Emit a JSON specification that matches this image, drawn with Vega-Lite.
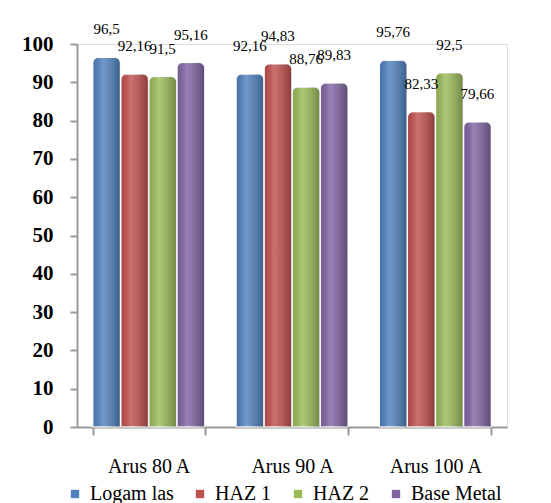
{
  "$schema": "https://vega.github.io/schema/vega-lite/v6.json",
  "autosize": "none",
  "width": 430,
  "height": 383,
  "padding": {"left": 77, "top": 44, "right": 44, "bottom": 76},
  "background": "white",
  "config": {"font": "Liberation Serif, Times New Roman, serif"},
  "data": {"values": [
    {"arus": "Arus 80 A", "seri": "Logam las", "nilai": 96.5, "label": "96,5"},
    {"arus": "Arus 80 A", "seri": "HAZ 1", "nilai": 92.16, "label": "92,16"},
    {"arus": "Arus 80 A", "seri": "HAZ 2", "nilai": 91.5, "label": "91,5"},
    {"arus": "Arus 80 A", "seri": "Base Metal", "nilai": 95.16, "label": "95,16"},
    {"arus": "Arus 90 A", "seri": "Logam las", "nilai": 92.16, "label": "92,16"},
    {"arus": "Arus 90 A", "seri": "HAZ 1", "nilai": 94.83, "label": "94,83"},
    {"arus": "Arus 90 A", "seri": "HAZ 2", "nilai": 88.76, "label": "88,76"},
    {"arus": "Arus 90 A", "seri": "Base Metal", "nilai": 89.83, "label": "89,83"},
    {"arus": "Arus 100 A", "seri": "Logam las", "nilai": 95.76, "label": "95,76"},
    {"arus": "Arus 100 A", "seri": "HAZ 1", "nilai": 82.33, "label": "82,33"},
    {"arus": "Arus 100 A", "seri": "HAZ 2", "nilai": 92.5, "label": "92,5"},
    {"arus": "Arus 100 A", "seri": "Base Metal", "nilai": 79.66, "label": "79,66"}
  ]},
  "encoding": {
    "x": {"field": "arus", "type": "nominal", "sort": ["Arus 80 A", "Arus 90 A", "Arus 100 A"],
      "scale": {"paddingInner": 0.22, "paddingOuter": 0.11},
      "axis": {"title": null, "labelAngle": 0, "labelFont": "Liberation Serif, serif", "labelFontSize": 20, "labelColor": "black",
        "labelPadding": 21, "domainColor": "#999999", "domainWidth": 2, "tickColor": "#999999", "tickWidth": 2, "tickSize": 8, "tickBand": "extent"}},
    "xOffset": {"field": "seri", "type": "nominal", "sort": ["Logam las", "HAZ 1", "HAZ 2", "Base Metal"], "scale": {"paddingInner": 0.02}},
    "y": {"field": "nilai", "type": "quantitative", "scale": {"domain": [0, 100]},
      "axis": {"title": null, "values": [0,10,20,30,40,50,60,70,80,90,100], "grid": false, "labelFont": "Liberation Serif, serif", "labelFontSize": 21, "labelFontWeight": "bold",
        "labelColor": "black", "labelPadding": 17, "domainColor": "#999999", "domainWidth": 2, "tickColor": "#999999", "tickWidth": 2, "tickSize": 7}}
  },
  "layer": [
    {
      "mark": {"type": "bar", "cornerRadiusTopLeft": 6, "cornerRadiusTopRight": 6, "stroke": "white", "strokeWidth": 1},
      "encoding": {
        "color": {"field": "seri", "type": "nominal", "sort": ["Logam las", "HAZ 1", "HAZ 2", "Base Metal"],
          "scale": {"domain": ["Logam las", "HAZ 1", "HAZ 2", "Base Metal"], "range": ["#4F81BD", "#C0504D", "#9BBB59", "#8064A2"]},
          "legend": {"title": null, "orient": "none", "legendX": -12, "legendY": 440, "direction": "horizontal", "columns": 4,
            "symbolType": "square", "symbolSize": 70, "symbolStrokeWidth": 0, "labelFont": "Liberation Serif, serif", "labelFontSize": 20,
            "labelColor": "black", "columnPadding": 16, "labelOffset": 5}}
      }
    },
    {
      "mark": {"type": "bar", "cornerRadiusTopLeft": 6, "cornerRadiusTopRight": 6,
        "color": {"gradient": "linear", "x1": 0, "x2": 1, "y1": 0, "y2": 0,
          "stops": [{"offset": 0, "color": "rgba(0,0,0,0.10)"}, {"offset": 0.35, "color": "rgba(255,255,255,0.18)"}, {"offset": 1, "color": "rgba(0,0,0,0.28)"}]}},
      "encoding": {}
    },
    {
      "mark": {"type": "text", "baseline": "bottom", "dy": -20, "font": "Liberation Serif, serif", "fontSize": 15, "color": "black"},
      "encoding": {"text": {"field": "label"}}
    }
  ]
}
